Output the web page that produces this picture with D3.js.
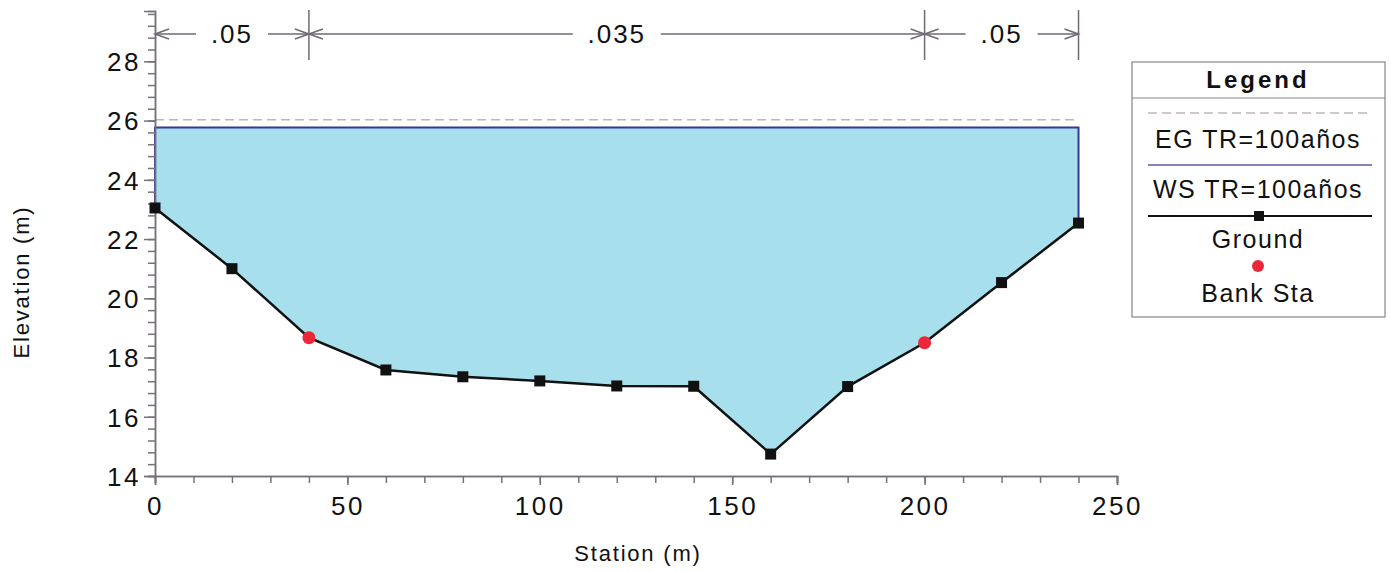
<!DOCTYPE html>
<head>
	<meta charset="utf-8">
	<script src="https://d3js.org/d3.v7.min.js"></script>
	<style>
		body { margin: 0; background: #fff; }
		text { font-family: "Liberation Sans", Arial, sans-serif; fill: #111; }
	</style>
</head>
<body>
	<svg id="xs" width="1391" height="572"></svg>
	<script>

	// Data
	var stations = [0, 20, 40, 60, 80, 100, 120, 140, 160, 180, 200, 220, 240];
	var ground = [23.05, 21.0, 18.67, 17.58, 17.35, 17.21, 17.04, 17.03, 14.74, 17.02, 18.5, 20.53, 22.54];
	var bankSta = [40, 200];
	var wsElev = 25.77;
	var egElev = 26.03;
	var nBreaks = [0, 40, 200, 240];
	var nValues = [".05", ".035", ".05"];
	var xTicks = [0, 50, 100, 150, 200, 250];
	var yTicks = [14, 16, 18, 20, 22, 24, 26, 28];
	var legendLabels = ["EG TR=100años", "WS TR=100años", "Ground", "Bank Sta"];

	var svg = d3.select("svg");

	var x = d3.scaleLinear().domain([0, 250]).range([155, 1117]);
	var y = d3.scaleLinear().domain([14, 29.7]).range([476, 11]);

	var pts = stations.map(function(s, i) { return {s: s, z: ground[i]}; });
	var gndAt = function(s) { return ground[stations.indexOf(s)]; };

	// water fill
	var first = stations[0], last = stations[stations.length - 1];
	var poly = [[first, wsElev], [last, wsElev]];
	pts.slice().reverse().forEach(function(p) { poly.push([p.s, p.z]); });
	svg.append("path")
		.attr("d", d3.line().x(function(d) { return x(d[0]); }).y(function(d) { return y(d[1]); })(poly) + "Z")
		.attr("fill", "#a7e0ec");

	// EG line
	svg.append("line")
		.attr("x1", x(first)).attr("x2", x(last))
		.attr("y1", y(egElev)).attr("y2", y(egElev))
		.attr("stroke", "#c2b6b2").attr("stroke-width", 1.5)
		.attr("stroke-dasharray", "9,5");

	// WS line
	svg.append("path")
		.attr("d", d3.line()([[x(first), y(gndAt(first))], [x(first), y(wsElev)], [x(last), y(wsElev)], [x(last), y(gndAt(last))]]))
		.attr("fill", "none").attr("stroke", "#35379a").attr("stroke-width", 2);

	// axes
	var yAxis = svg.append("g").attr("transform", "translate(" + x(0) + ",0)");
	yAxis.call(d3.axisLeft(y).tickValues(d3.range(14, 29.7, 0.4)).tickSize(7).tickFormat(""));
	yAxis.append("g").call(d3.axisLeft(y).tickValues(yTicks).tickSize(11).tickPadding(3));
	yAxis.selectAll("path, line").attr("stroke", "#77717c").attr("stroke-width", 1.5);
	yAxis.selectAll("text").attr("font-size", 26).attr("letter-spacing", 2.5).attr("dy", "0.36em");

	var xAxis = svg.append("g").attr("transform", "translate(0," + y(14) + ")");
	xAxis.call(d3.axisBottom(x).tickValues(d3.range(0, 251, 10)).tickSize(7).tickFormat(""));
	xAxis.append("g").call(d3.axisBottom(x).tickValues(xTicks).tickSize(9).tickPadding(9));
	xAxis.selectAll("path, line").attr("stroke", "#77717c").attr("stroke-width", 1.5);
	xAxis.selectAll("text").attr("font-size", 26).attr("letter-spacing", 2.5).attr("dy", "0.8em");

	svg.append("text").attr("x", 638).attr("y", 561).attr("text-anchor", "middle")
		.attr("font-size", 22).attr("letter-spacing", 1.8).text("Station (m)");
	svg.append("text").attr("transform", "translate(29,282) rotate(-90)").attr("text-anchor", "middle")
		.attr("font-size", 22).attr("letter-spacing", 1.8).text("Elevation (m)");

	// ground line and markers
	svg.append("path")
		.attr("d", d3.line().x(function(d) { return x(d.s); }).y(function(d) { return y(d.z); })(pts))
		.attr("fill", "none").attr("stroke", "#111").attr("stroke-width", 2.5);
	svg.selectAll(".gm").data(pts.filter(function(p) { return bankSta.indexOf(p.s) < 0; }))
		.enter().append("rect")
		.attr("x", function(d) { return x(d.s) - 5.5; })
		.attr("y", function(d) { return y(d.z) - 5.5; })
		.attr("width", 11).attr("height", 11).attr("fill", "#111");
	svg.selectAll(".bm").data(bankSta)
		.enter().append("circle")
		.attr("cx", function(d) { return x(d); })
		.attr("cy", function(d) { return y(gndAt(d)); })
		.attr("r", 6.5).attr("fill", "#ee2738");

	// manning n dimension lines
	var dimY = 34, dimCol = "#6f6875";
	var dim = svg.append("g").attr("stroke", dimCol).attr("stroke-width", 1.5).attr("fill", "none");
	nBreaks.forEach(function(b, i) {
		if (i == 0) return;
		dim.append("line").attr("x1", x(b)).attr("x2", x(b)).attr("y1", 10).attr("y2", 60);
	});
	var arrow = function(px, dir) {
		dim.append("path").attr("d", "M" + (px - dir * 14) + "," + (dimY - 5) + "L" + px + "," + dimY + "L" + (px - dir * 14) + "," + (dimY + 5));
	};
	nValues.forEach(function(n, i) {
		var a = x(nBreaks[i]), b = x(nBreaks[i + 1]), c = (a + b) / 2;
		var half = n.length * 8 + 12;
		dim.append("line").attr("x1", a).attr("x2", c - half).attr("y1", dimY).attr("y2", dimY);
		dim.append("line").attr("x1", c + half).attr("x2", b).attr("y1", dimY).attr("y2", dimY);
		arrow(a, -1);
		arrow(b, 1);
		svg.append("text").attr("x", c).attr("y", dimY).attr("dy", "0.36em")
			.attr("text-anchor", "middle").attr("font-size", 26).attr("letter-spacing", 2).text(n);
	});

	// legend
	var lg = svg.append("g");
	lg.append("rect").attr("x", 1132).attr("y", 62).attr("width", 253).attr("height", 255)
		.attr("fill", "#fff").attr("stroke", "#8a8488").attr("stroke-width", 1.2);
	lg.append("line").attr("x1", 1132).attr("x2", 1385).attr("y1", 98).attr("y2", 98)
		.attr("stroke", "#8a8488").attr("stroke-width", 1.2);
	lg.append("text").attr("x", 1258).attr("y", 79).attr("dy", "0.36em").attr("text-anchor", "middle")
		.attr("font-size", 24).attr("font-weight", "bold").attr("letter-spacing", 3).text("Legend");
	lg.append("line").attr("x1", 1148).attr("x2", 1372).attr("y1", 113).attr("y2", 113)
		.attr("stroke", "#c2b6b2").attr("stroke-width", 1.5).attr("stroke-dasharray", "9,5");
	lg.append("line").attr("x1", 1148).attr("x2", 1372).attr("y1", 165).attr("y2", 165)
		.attr("stroke", "#5a5aa6").attr("stroke-width", 1.5);
	lg.append("line").attr("x1", 1148).attr("x2", 1372).attr("y1", 216).attr("y2", 216)
		.attr("stroke", "#111").attr("stroke-width", 2);
	lg.append("rect").attr("x", 1254).attr("y", 211).attr("width", 10).attr("height", 10).attr("fill", "#111");
	lg.append("circle").attr("cx", 1258).attr("cy", 266).attr("r", 6).attr("fill", "#ee2738");
	var ly = [139, 189, 239, 293];
	legendLabels.forEach(function(t, i) {
		lg.append("text").attr("x", 1258).attr("y", ly[i]).attr("dy", "0.36em").attr("text-anchor", "middle")
			.attr("font-size", 25).attr("letter-spacing", 1.5).text(t);
	});

	</script>
</body>
</html>
